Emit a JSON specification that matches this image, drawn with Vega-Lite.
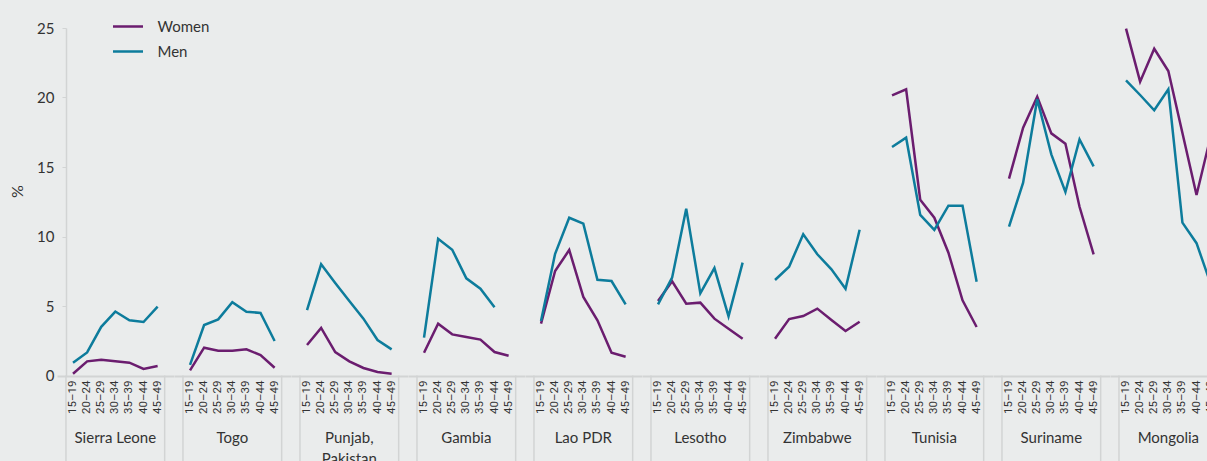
{
  "$schema": "https://vega.github.io/schema/vega-lite/v6.json",
  "background": "#eaecec",
  "padding": {"left": 9, "top": 10, "right": 0, "bottom": 0},
  "bounds": "flush",
  "data": {"values": [
    {"country":"Sierra Leone","sex":"Women","age":"15–19","value":0.13},
    {"country":"Sierra Leone","sex":"Women","age":"20–24","value":1.02},
    {"country":"Sierra Leone","sex":"Women","age":"25–29","value":1.14},
    {"country":"Sierra Leone","sex":"Women","age":"30–34","value":1.02},
    {"country":"Sierra Leone","sex":"Women","age":"35–39","value":0.92},
    {"country":"Sierra Leone","sex":"Women","age":"40–44","value":0.47},
    {"country":"Sierra Leone","sex":"Women","age":"45–49","value":0.68},
    {"country":"Sierra Leone","sex":"Men","age":"15–19","value":0.92},
    {"country":"Sierra Leone","sex":"Men","age":"20–24","value":1.66},
    {"country":"Sierra Leone","sex":"Men","age":"25–29","value":3.5},
    {"country":"Sierra Leone","sex":"Men","age":"30–34","value":4.6},
    {"country":"Sierra Leone","sex":"Men","age":"35–39","value":3.97},
    {"country":"Sierra Leone","sex":"Men","age":"40–44","value":3.85},
    {"country":"Sierra Leone","sex":"Men","age":"45–49","value":4.95},
    {"country":"Togo","sex":"Women","age":"15–19","value":0.37},
    {"country":"Togo","sex":"Women","age":"20–24","value":2.0},
    {"country":"Togo","sex":"Women","age":"25–29","value":1.78},
    {"country":"Togo","sex":"Women","age":"30–34","value":1.78},
    {"country":"Togo","sex":"Women","age":"35–39","value":1.88},
    {"country":"Togo","sex":"Women","age":"40–44","value":1.47},
    {"country":"Togo","sex":"Women","age":"45–49","value":0.56},
    {"country":"Togo","sex":"Men","age":"15–19","value":0.76},
    {"country":"Togo","sex":"Men","age":"20–24","value":3.63},
    {"country":"Togo","sex":"Men","age":"25–29","value":4.04},
    {"country":"Togo","sex":"Men","age":"30–34","value":5.27},
    {"country":"Togo","sex":"Men","age":"35–39","value":4.59},
    {"country":"Togo","sex":"Men","age":"40–44","value":4.5},
    {"country":"Togo","sex":"Men","age":"45–49","value":2.48},
    {"country":"Punjab, Pakistan","sex":"Women","age":"15–19","value":2.19},
    {"country":"Punjab, Pakistan","sex":"Women","age":"20–24","value":3.42},
    {"country":"Punjab, Pakistan","sex":"Women","age":"25–29","value":1.69},
    {"country":"Punjab, Pakistan","sex":"Women","age":"30–34","value":1.02},
    {"country":"Punjab, Pakistan","sex":"Women","age":"35–39","value":0.54},
    {"country":"Punjab, Pakistan","sex":"Women","age":"40–44","value":0.25},
    {"country":"Punjab, Pakistan","sex":"Women","age":"45–49","value":0.13},
    {"country":"Punjab, Pakistan","sex":"Men","age":"15–19","value":4.71},
    {"country":"Punjab, Pakistan","sex":"Men","age":"20–24","value":8.0},
    {"country":"Punjab, Pakistan","sex":"Men","age":"25–29","value":6.65},
    {"country":"Punjab, Pakistan","sex":"Men","age":"30–34","value":5.36},
    {"country":"Punjab, Pakistan","sex":"Men","age":"35–39","value":4.09},
    {"country":"Punjab, Pakistan","sex":"Men","age":"40–44","value":2.55},
    {"country":"Punjab, Pakistan","sex":"Men","age":"45–49","value":1.88},
    {"country":"Gambia","sex":"Women","age":"15–19","value":1.64},
    {"country":"Gambia","sex":"Women","age":"20–24","value":3.73},
    {"country":"Gambia","sex":"Women","age":"25–29","value":2.96},
    {"country":"Gambia","sex":"Women","age":"30–34","value":2.77},
    {"country":"Gambia","sex":"Women","age":"35–39","value":2.58},
    {"country":"Gambia","sex":"Women","age":"40–44","value":1.69},
    {"country":"Gambia","sex":"Women","age":"45–49","value":1.42},
    {"country":"Gambia","sex":"Men","age":"15–19","value":2.72},
    {"country":"Gambia","sex":"Men","age":"20–24","value":9.84},
    {"country":"Gambia","sex":"Men","age":"25–29","value":9.05},
    {"country":"Gambia","sex":"Men","age":"30–34","value":6.99},
    {"country":"Gambia","sex":"Men","age":"35–39","value":6.24},
    {"country":"Gambia","sex":"Men","age":"40–44","value":4.91},
    {"country":"Lao PDR","sex":"Women","age":"15–19","value":3.73},
    {"country":"Lao PDR","sex":"Women","age":"20–24","value":7.52},
    {"country":"Lao PDR","sex":"Women","age":"25–29","value":9.03},
    {"country":"Lao PDR","sex":"Women","age":"30–34","value":5.65},
    {"country":"Lao PDR","sex":"Women","age":"35–39","value":3.97},
    {"country":"Lao PDR","sex":"Women","age":"40–44","value":1.64},
    {"country":"Lao PDR","sex":"Women","age":"45–49","value":1.35},
    {"country":"Lao PDR","sex":"Men","age":"15–19","value":3.92},
    {"country":"Lao PDR","sex":"Men","age":"20–24","value":8.76},
    {"country":"Lao PDR","sex":"Men","age":"25–29","value":11.35},
    {"country":"Lao PDR","sex":"Men","age":"30–34","value":10.92},
    {"country":"Lao PDR","sex":"Men","age":"35–39","value":6.89},
    {"country":"Lao PDR","sex":"Men","age":"40–44","value":6.8},
    {"country":"Lao PDR","sex":"Men","age":"45–49","value":5.12},
    {"country":"Lesotho","sex":"Women","age":"15–19","value":5.36},
    {"country":"Lesotho","sex":"Women","age":"20–24","value":6.78},
    {"country":"Lesotho","sex":"Women","age":"25–29","value":5.17},
    {"country":"Lesotho","sex":"Women","age":"30–34","value":5.24},
    {"country":"Lesotho","sex":"Women","age":"35–39","value":4.09},
    {"country":"Lesotho","sex":"Women","age":"40–44","value":3.37},
    {"country":"Lesotho","sex":"Women","age":"45–49","value":2.65},
    {"country":"Lesotho","sex":"Men","age":"15–19","value":5.12},
    {"country":"Lesotho","sex":"Men","age":"20–24","value":7.04},
    {"country":"Lesotho","sex":"Men","age":"25–29","value":12.0},
    {"country":"Lesotho","sex":"Men","age":"30–34","value":5.91},
    {"country":"Lesotho","sex":"Men","age":"35–39","value":7.73},
    {"country":"Lesotho","sex":"Men","age":"40–44","value":4.26},
    {"country":"Lesotho","sex":"Men","age":"45–49","value":8.12},
    {"country":"Zimbabwe","sex":"Women","age":"15–19","value":2.65},
    {"country":"Zimbabwe","sex":"Women","age":"20–24","value":4.06},
    {"country":"Zimbabwe","sex":"Women","age":"25–29","value":4.28},
    {"country":"Zimbabwe","sex":"Women","age":"30–34","value":4.81},
    {"country":"Zimbabwe","sex":"Women","age":"35–39","value":3.99},
    {"country":"Zimbabwe","sex":"Women","age":"40–44","value":3.2},
    {"country":"Zimbabwe","sex":"Women","age":"45–49","value":3.87},
    {"country":"Zimbabwe","sex":"Men","age":"15–19","value":6.87},
    {"country":"Zimbabwe","sex":"Men","age":"20–24","value":7.83},
    {"country":"Zimbabwe","sex":"Men","age":"25–29","value":10.16},
    {"country":"Zimbabwe","sex":"Men","age":"30–34","value":8.72},
    {"country":"Zimbabwe","sex":"Men","age":"35–39","value":7.64},
    {"country":"Zimbabwe","sex":"Men","age":"40–44","value":6.24},
    {"country":"Zimbabwe","sex":"Men","age":"45–49","value":10.49},
    {"country":"Tunisia","sex":"Women","age":"15–19","value":20.16},
    {"country":"Tunisia","sex":"Women","age":"20–24","value":20.59},
    {"country":"Tunisia","sex":"Women","age":"25–29","value":12.65},
    {"country":"Tunisia","sex":"Women","age":"30–34","value":11.35},
    {"country":"Tunisia","sex":"Women","age":"35–39","value":8.83},
    {"country":"Tunisia","sex":"Women","age":"40–44","value":5.41},
    {"country":"Tunisia","sex":"Women","age":"45–49","value":3.49},
    {"country":"Tunisia","sex":"Men","age":"15–19","value":16.44},
    {"country":"Tunisia","sex":"Men","age":"20–24","value":17.11},
    {"country":"Tunisia","sex":"Men","age":"25–29","value":11.55},
    {"country":"Tunisia","sex":"Men","age":"30–34","value":10.47},
    {"country":"Tunisia","sex":"Men","age":"35–39","value":12.22},
    {"country":"Tunisia","sex":"Men","age":"40–44","value":12.22},
    {"country":"Tunisia","sex":"Men","age":"45–49","value":6.75},
    {"country":"Suriname","sex":"Women","age":"15–19","value":14.16},
    {"country":"Suriname","sex":"Women","age":"20–24","value":17.83},
    {"country":"Suriname","sex":"Women","age":"25–29","value":20.06},
    {"country":"Suriname","sex":"Women","age":"30–34","value":17.42},
    {"country":"Suriname","sex":"Women","age":"35–39","value":16.68},
    {"country":"Suriname","sex":"Women","age":"40–44","value":12.14},
    {"country":"Suriname","sex":"Women","age":"45–49","value":8.72},
    {"country":"Suriname","sex":"Men","age":"15–19","value":10.71},
    {"country":"Suriname","sex":"Men","age":"20–24","value":13.87},
    {"country":"Suriname","sex":"Men","age":"25–29","value":19.87},
    {"country":"Suriname","sex":"Men","age":"30–34","value":15.91},
    {"country":"Suriname","sex":"Men","age":"35–39","value":13.2},
    {"country":"Suriname","sex":"Men","age":"40–44","value":16.99},
    {"country":"Suriname","sex":"Men","age":"45–49","value":15.05},
    {"country":"Mongolia","sex":"Women","age":"15–19","value":24.95},
    {"country":"Mongolia","sex":"Women","age":"20–24","value":21.14},
    {"country":"Mongolia","sex":"Women","age":"25–29","value":23.51},
    {"country":"Mongolia","sex":"Women","age":"30–34","value":21.9},
    {"country":"Mongolia","sex":"Women","age":"35–39","value":17.45},
    {"country":"Mongolia","sex":"Women","age":"40–44","value":12.99},
    {"country":"Mongolia","sex":"Women","age":"45–49","value":17.2},
    {"country":"Mongolia","sex":"Men","age":"15–19","value":21.24},
    {"country":"Mongolia","sex":"Men","age":"20–24","value":20.18},
    {"country":"Mongolia","sex":"Men","age":"25–29","value":19.08},
    {"country":"Mongolia","sex":"Men","age":"30–34","value":20.59},
    {"country":"Mongolia","sex":"Men","age":"35–39","value":11.0},
    {"country":"Mongolia","sex":"Men","age":"40–44","value":9.52},
    {"country":"Mongolia","sex":"Men","age":"45–49","value":6.6}
  ]},
  "facet": {
    "column": {
      "field": "country", "type": "nominal",
      "sort": ["Sierra Leone","Togo","Punjab, Pakistan","Gambia","Lao PDR","Lesotho","Zimbabwe","Tunisia","Suriname","Mongolia"],
      "header": {
        "title": null,
        "labelOrient": "bottom",
        "labelFont": "Lato",
        "labelFontSize": 15,
        "labelColor": "#333333",
        "labelPadding": 18,
        "labelLineHeight": 21,
        "labelBaseline": "top",
        "labelExpr": "datum.value == 'Punjab, Pakistan' ? ['Punjab,', 'Pakistan'] : datum.value"
      }
    }
  },
  "spacing": 0,
  "spec": {
    "width": 116.65,
    "height": 347.5,
    "layer": [
      {
        "mark": {"type": "line", "strokeWidth": 2.5},
        "encoding": {
          "x": {
            "field": "age", "type": "ordinal", "title": null, "bandPosition": 0.5,
            "scale": {"type": "band", "paddingInner": 0, "paddingOuter": 0.636},
            "axis": {"labelAngle": -90, "ticks": false, "labelPadding": 4, "labelFont": "Liberation Sans Narrow, Roboto", "labelFontSize": 11.5, "labelColor": "#333333", "domainColor": "#d2d4d4", "domainWidth": 2}
          },
          "y": {
            "field": "value", "type": "quantitative", "title": "%",
            "scale": {"domain": [0, 25], "nice": false},
            "axis": {"values": [0, 5, 10, 15, 20, 25], "grid": false, "offset": -9, "domainColor": "#d2d4d4", "domainWidth": 1.5, "tickColor": "#d2d4d4", "tickSize": 4, "labelPadding": 8, "labelFont": "Lato", "labelFontSize": 15, "labelColor": "#333333", "titleFont": "Lato", "titleFontSize": 16, "titleFontWeight": "normal", "titleColor": "#333333", "titlePadding": 11, "titleY": 163}
          },
          "color": {
            "field": "sex", "type": "nominal",
            "scale": {"domain": ["Women", "Men"], "range": ["#6b1d6f", "#0d7c9c"]},
            "legend": {"title": null, "orient": "none", "legendX": 54.5, "legendY": -18, "symbolType": "stroke", "symbolSize": 900, "symbolStrokeWidth": 2.5, "labelFont": "Lato", "labelFontSize": 15, "labelColor": "#333333", "labelOffset": 13, "rowPadding": -5}
          }
        }
      },
      {
        "transform": [{"filter": "datum.age == '15–19' && datum.sex == 'Women'"}],
        "mark": {"type": "rule", "color": "#d2d4d4", "strokeWidth": 1.5},
        "encoding": {
          "x": {"field": "age", "type": "ordinal", "title": null, "bandPosition": 0},
          "y": {"datum": 0, "scale": {"domain": [0, 25], "nice": false}, "title": null},
          "y2": {"datum": -7}
        }
      },
      {
        "transform": [{"filter": "datum.age == '45–49' && datum.sex == 'Women'"}],
        "mark": {"type": "rule", "color": "#d2d4d4", "strokeWidth": 1.5},
        "encoding": {
          "x": {"field": "age", "type": "ordinal", "title": null, "bandPosition": 1},
          "y": {"datum": 0, "scale": {"domain": [0, 25], "nice": false}, "title": null},
          "y2": {"datum": -7}
        }
      }
    ]
  },
  "config": {"view": {"stroke": null}}
}
